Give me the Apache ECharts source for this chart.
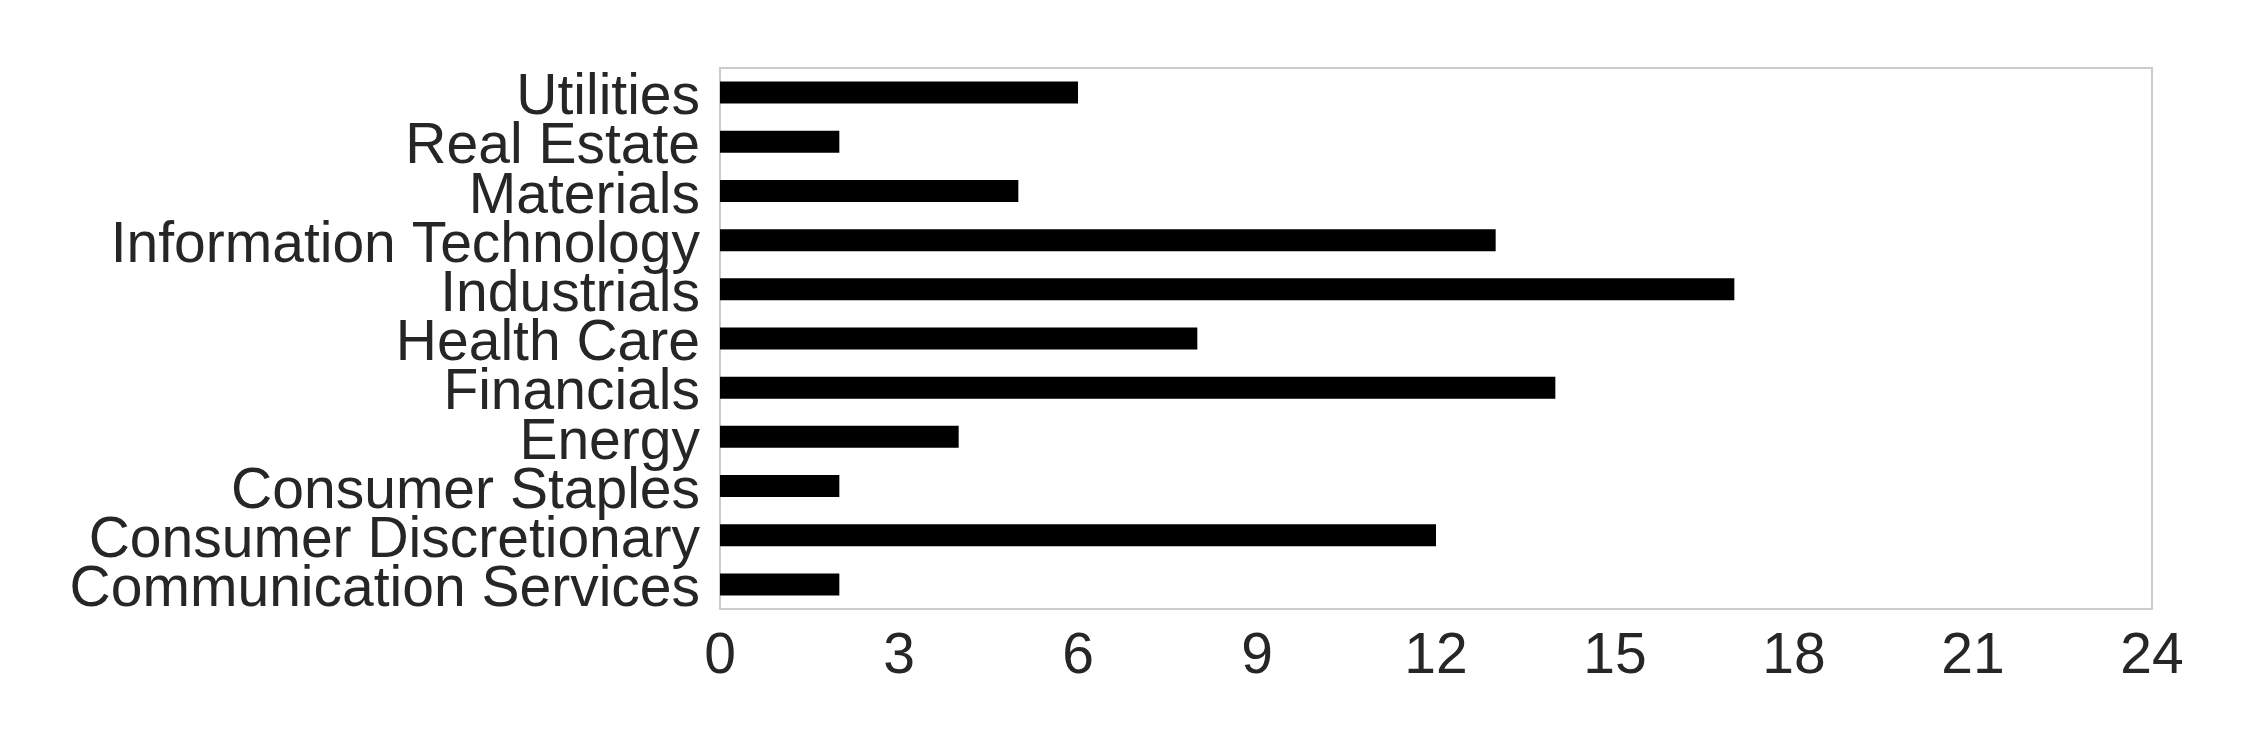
<!DOCTYPE html>
<html>
<head>
<meta charset="utf-8">
<script src="https://cdn.jsdelivr.net/npm/echarts@6/dist/echarts.min.js"></script>
<style>
  html, body { margin: 0; padding: 0; background: #fff; }
  #chart { width: 2250px; height: 750px; }
</style>
</head>
<body>
<div id="chart"></div>
<script>
// sectors, bottom to top
const sectors = [
  'Communication Services', 'Consumer Discretionary', 'Consumer Staples', 'Energy',
  'Financials', 'Health Care', 'Industrials', 'Information Technology',
  'Materials', 'Real Estate', 'Utilities'
]
const counts = [2, 12, 2, 4, 14, 8, 17, 13, 5, 2, 6]
const xTicks = [0, 3, 6, 9, 12, 15, 18, 21, 24]

const font = "'Liberation Sans', Arial, sans-serif"
let chart = echarts.init(document.getElementById('chart'))
chart.setOption({
  animation: false,
  grid: {
    left: 720, right: 98, top: 68, bottom: 141,
    show: true,
    borderColor: '#cccccc',
    borderWidth: 2,
    backgroundColor: '#ffffff'
  },
  xAxis: {
    type: 'value',
    min: xTicks[0],
    max: xTicks[xTicks.length - 1],
    interval: 3,
    axisLine: { show: false },
    axisTick: { show: false },
    splitLine: { show: false },
    axisLabel: { color: '#262626', fontSize: 57, fontFamily: font, margin: 20 }
  },
  yAxis: {
    type: 'category',
    data: sectors,
    axisLine: { show: false },
    axisTick: { show: false },
    splitLine: { show: false },
    axisLabel: {
      interval: 0, //all labels, they overlap a little like the original
      color: '#262626', fontSize: 57, fontFamily: font, margin: 20,
      //push text a bit below the bar centre
      verticalAlign: 'top',
      lineHeight: 12
    }
  },
  series: [{
    type: 'bar',
    data: counts,
    barWidth: 22,
    itemStyle: { color: '#000000' }
  }]
})
</script>
</body>
</html>
